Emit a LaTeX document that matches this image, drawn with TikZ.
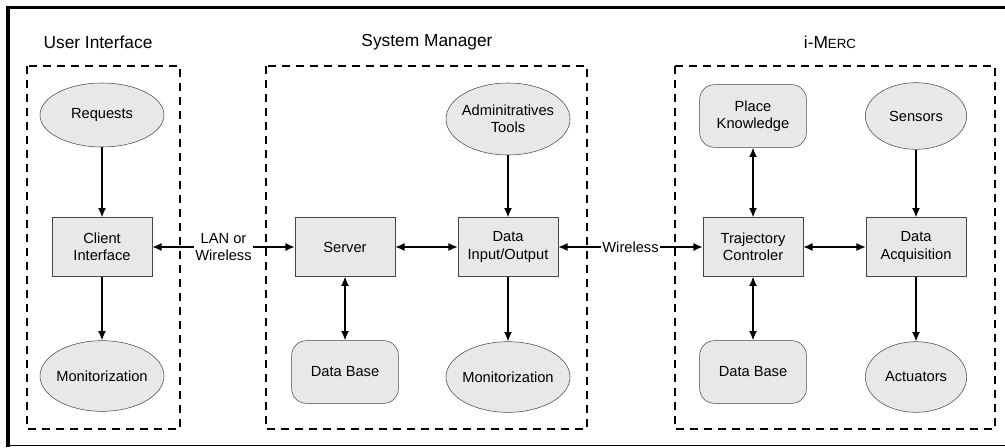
\documentclass[tikz,border=0pt]{standalone}
\usepackage{fontspec}
\setmainfont{Liberation Sans}
\usetikzlibrary{shapes.geometric,arrows.meta}
\definecolor{boxfill}{RGB}{232,232,232}
\definecolor{boxline}{RGB}{70,70,70}

\begin{document}
\begin{tikzpicture}[x=0.75pt,y=-0.75pt,
    >={Latex[length=7pt,width=6pt]},
    every node/.style={font=\fontsize{11}{13}\selectfont},
    oval/.style={ellipse,draw=boxline,fill=boxfill,inner sep=-2pt,minimum width=93pt,minimum height=48pt,align=center},
    blockbox/.style={rectangle,draw=boxline,fill=boxfill,minimum width=75pt,minimum height=44pt,align=center},
    storebox/.style={rectangle,rounded corners=11pt,draw=boxline,fill=boxfill,minimum width=80pt,minimum height=47pt,align=center},
    group/.style={draw,dash pattern=on 6pt off 4.5pt,line width=1.1pt},
    title/.style={font=\fontsize{13}{15}\selectfont},
    link/.style={line width=1.1pt}]
            \useasboundingbox (0,0) rectangle (1005,447);
            % outer frame
            \draw[line width=1.2pt] (1010,445.5) -- (8,445.5);
            \draw[line width=2.4pt] (8,447) -- (8,7.5) -- (1010,7.5);
            % groups
            \draw[group] (27,66) rectangle (180,429);
            \draw[group] (266,66) rectangle (587,429);
            \draw[group] (675,66) rectangle (995,429);
            \node[title] (uititle) at (98,42) {User Interface};
            \node[title] (smtitle) at (427,42) {System Manager};
            \node[title] (mrtitle) at (830,42) {i-M{\fontsize{10}{12}\selectfont ERC}};
            % user interface
            \node[oval] (requests) at (102,115) {Requests};
            \node[blockbox] (client) at (102,247) {Client\\Interface};
            \node[oval,minimum height=53pt] (uimon) at (102,376) {Monitorization};
            % system manager
            \node[blockbox] (server) at (345,247) {Server};
            \node[storebox] (smbase) at (345,372) {Data Base};
            \node[oval,minimum height=54pt] (admin) at (508,119) {Adminitratives\\Tools};
            \node[blockbox] (dataio) at (508,247) {Data\\Input/Output};
            \node[oval,minimum height=53pt] (smmon) at (508,377) {Monitorization};
            % i-MERC
            \node[storebox] (place) at (753,116) {Place\\Knowledge};
            \node[oval,minimum width=76pt,minimum height=50pt] (sensors) at (916,116) {Sensors};
            \node[blockbox] (trajectory) at (753,247) {Trajectory\\Controler};
            \node[blockbox] (acquisition) at (916,247) {Data\\Acquisition};
            \node[storebox] (mrbase) at (753,372) {Data Base};
            \node[oval,minimum width=76pt,minimum height=53pt] (actuators) at (916,377) {Actuators};
            % links
            \draw[link,->] (requests) -- (client);
            \draw[link,->] (client) -- (uimon);
            \draw[link,<->] (client) -- (server) node[midway,fill=white,align=center,inner sep=1pt] (lan) {LAN or\\Wireless};
            \draw[link,<->] (server) -- (dataio);
            \draw[link,<->] (server) -- (smbase);
            \draw[link,->] (admin) -- (dataio);
            \draw[link,->] (dataio) -- (smmon);
            \draw[link,<->] (dataio) -- (trajectory) node[midway,fill=white,inner sep=1pt] (wireless) {Wireless};
            \draw[link,<->] (place) -- (trajectory);
            \draw[link,<->] (trajectory) -- (mrbase);
            \draw[link,<->] (trajectory) -- (acquisition);
            \draw[link,->] (sensors) -- (acquisition);
            \draw[link,->] (acquisition) -- (actuators);
        \end{tikzpicture}
\end{document}
